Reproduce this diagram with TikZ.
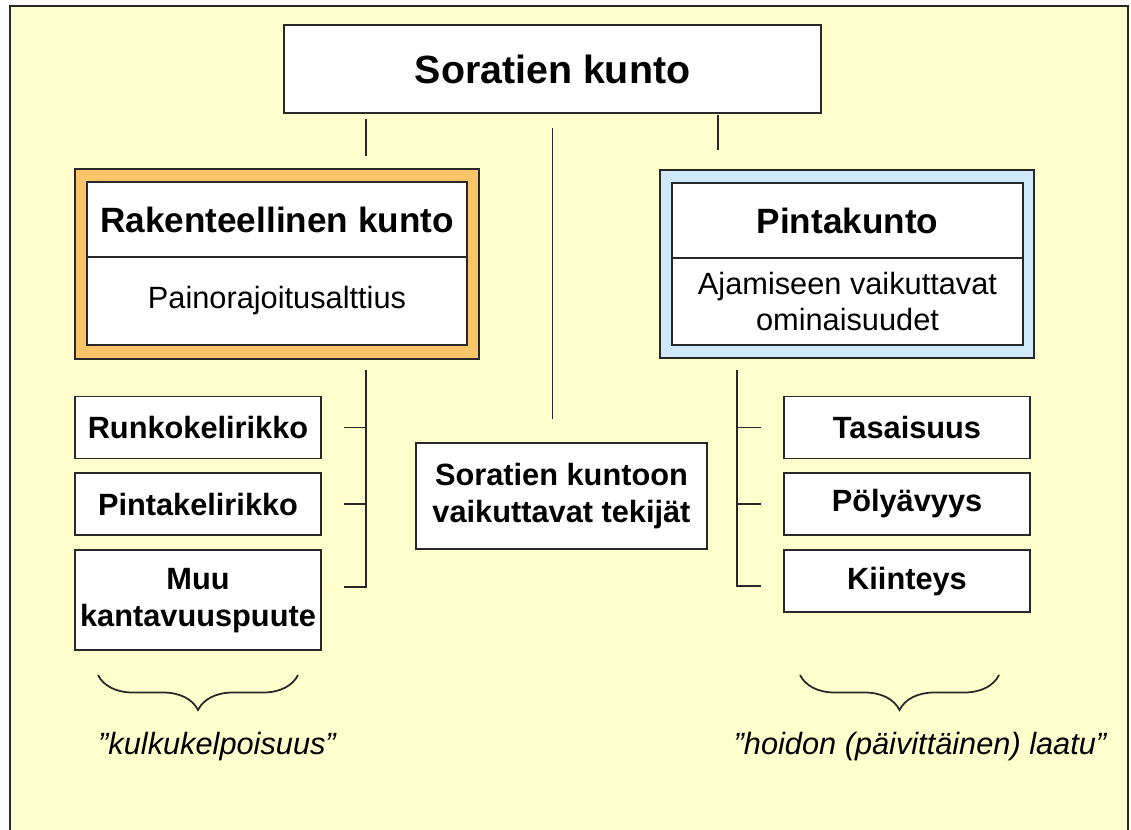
\documentclass[tikz,border=0pt]{standalone}
\usepackage{fontspec}
\setmainfont{Liberation Sans}
\usepackage{xcolor}
\usetikzlibrary{positioning}
\usetikzlibrary{decorations.pathreplacing}
\definecolor{paper}{RGB}{255,255,206}
\definecolor{rakframe}{RGB}{250,196,104}
\definecolor{pintaframe}{RGB}{206,234,250}
\definecolor{rule}{RGB}{40,40,40}
\tikzset{
	box/.style={draw=rule, line width=1.1pt, fill=white, align=center, inner sep=0pt},
	headtext/.style={font=\fontsize{20}{24}\selectfont\bfseries},
	bodytext/.style={font=\fontsize{17.5}{21}\selectfont},
	quotetext/.style={font=\fontsize{17.5}{21}\selectfont\itshape},
	itembox/.style={box, minimum width=4.92cm, minimum height=1.24cm,
			font=\fontsize{17.5}{21}\selectfont\bfseries},
	link/.style={draw=rule, line width=1.1pt},
	brace/.style={draw=rule, line width=1pt, decorate,
			decoration={brace, amplitude=0.7cm}}
}

\begin{document}
\begin{tikzpicture}[x=0.02cm, y=-0.02cm]
	\useasboundingbox (0,0) rectangle (1131,829);
	\fill[white] (0,0) rectangle (1131,829);
	\draw[rule, fill=paper, line width=1.2pt] (10,6) rectangle (1128,870);

	\node[box, minimum width=10.74cm, minimum height=1.76cm,
		font=\fontsize{22.4}{26}\selectfont\bfseries] (title) at (552.5,69) {Soratien kunto};

	% rakenteellinen kunto
	\node[draw=rule, fill=rakframe, line width=1.1pt, minimum width=8.08cm, minimum height=3.8cm] (rak) at (277,264) {};
	\node[box, headtext, minimum width=7.6cm, minimum height=1.5cm] (rakhead) at (277,219.5) {Rakenteellinen kunto};
	\node[box, bodytext, minimum width=7.6cm, minimum height=1.76cm] (rakbody) at (277,301) {Painorajoitusalttius};

	% pintakunto
	\node[draw=rule, fill=pintaframe, line width=1.1pt, minimum width=7.48cm, minimum height=3.76cm] (pinta) at (847,264) {};
	\node[box, headtext, minimum width=7.02cm, minimum height=1.5cm] (pintahead) at (847.5,220.5) {Pintakunto};
	\node[box, bodytext, minimum width=7.02cm, minimum height=1.74cm] (pintabody) at (847.5,301.5) {Ajamiseen vaikuttavat\\ominaisuudet};

	\node[itembox] (runko) at (198,427.5) {Runkokelirikko};
	\node[itembox, below=0.26cm of runko] (pintakeli) {Pintakelirikko};
	\node[itembox, minimum height=2cm, below=0.26cm of pintakeli] (muu) {Muu\\kantavuuspuute};

	\node[itembox] (tasa) at (907,427.5) {Tasaisuus};
	\node[itembox, below=0.25cm of tasa] (poly) {Pölyävyys};
	\node[itembox, below=0.27cm of poly] (kiint) {Kiinteys};

	\node[box, minimum width=5.82cm, minimum height=2.12cm,
		font=\fontsize{17.5}{21}\selectfont\bfseries] (tekijat) at (561.5,496) {Soratien kuntoon\\vaikuttavat tekijät};

	\coordinate (lspine) at (366,370);
	\coordinate (rspine) at (737,370);
	\coordinate (rdrop) at (718,113);

	\draw[link, shorten <=0.1cm, shorten >=0.24cm] (title.south -| lspine) -- (rak.north -| lspine);
	\draw[link, shorten <=0.28cm, shorten >=0.46cm] (title.south) -- (title.south |- tekijat.north);
	\draw[link, shorten <=0.04cm, shorten >=0.38cm] (rdrop) -- (rdrop |- pinta.north);

	\draw[link, shorten >=0.44cm] (lspine) |- ([yshift=7.4pt]muu.east);
	\foreach \n in {runko, pintakeli}
		\draw[link, shorten >=0.44cm] (lspine |- \n.east) -- (\n.east);
	\draw[link, shorten >=0.44cm] (rspine) |- ([yshift=-2.8pt]kiint.west);
	\foreach \n in {tasa, poly}
		\draw[link, shorten >=0.44cm] (rspine |- \n.west) -- (\n.west);

	\coordinate (lbraceR) at (298,675);
	\coordinate (lbraceL) at (98,675);
	\coordinate (rbraceR) at (999,675);
	\coordinate (rbraceL) at (800,675);
	\draw[brace] (lbraceR) -- (lbraceL);
	\draw[brace] (rbraceR) -- (rbraceL);

	\node[quotetext] (kulku) at (217,747) {”kulkukelpoisuus”};
	\node[quotetext] (hoito) at (920,747) {”hoidon (päivittäinen) laatu”};
\end{tikzpicture}
\end{document}
